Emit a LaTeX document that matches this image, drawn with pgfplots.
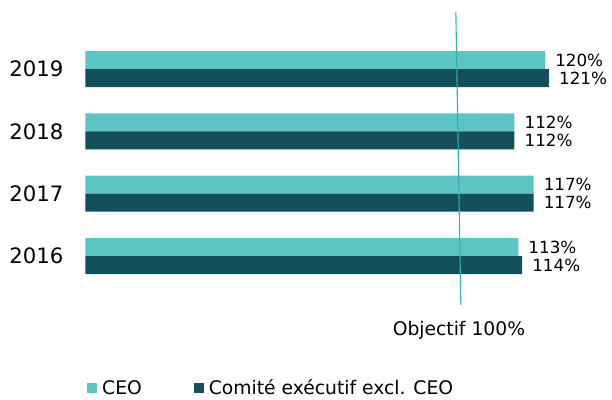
\documentclass[border=0pt]{standalone}
\usepackage{pgfplots}
\pgfplotsset{compat=1.18}
\usepackage{fontspec}
\setmainfont{DejaVu Sans}

\definecolor{ceo}{HTML}{5CC5C4}
\definecolor{comex}{HTML}{134F5C}
\definecolor{objline}{HTML}{2BB5B0}

\begin{document}
\begin{tikzpicture}
\begin{axis}[
  xbar,
  scale only axis,
  width=497.9bp, height=261.8bp,
  xmin=0, xmax=130,
  ymin=-0.6, ymax=3.6,
  bar width=18bp,
  clip=false,
  axis line style={draw=none},
  tick style={draw=none},
  major tick length=0pt,
  xtick=\empty,
  ytick={0,1,2,3},
  yticklabels={2016,2017,2018,2019},
  yticklabel style={font=\fontsize{21.3}{25}\selectfont, inner sep=0pt, xshift=-22bp},
  /pgf/number format/assume math mode=true,
  nodes near coords={\pgfmathprintnumber{\pgfplotspointmeta}\%},
  every node near coord/.append style={font=\fontsize{16.8}{20}\selectfont, inner sep=0pt, anchor=west, xshift=10bp},
  legend style={
    draw=none, fill=none,
    at={(0.003,-0.362)}, anchor=west,
    inner sep=0pt,
    legend columns=2,
    nodes={inner sep=0pt, font=\fontsize{18.8}{22}\selectfont},
    /tikz/every odd column/.append style={column sep=5bp},
    /tikz/every even column/.append style={column sep=52bp},
  },
]
\addplot[fill=ceo, draw=none, bar shift=9bp,
  legend image code/.code={\fill[ceo] (0bp,-5bp) rectangle (10bp,5bp);}]
  coordinates {(113,0) (117,1) (112,2) (120,3)};
\addlegendentry{CEO}
\addplot[fill=comex, draw=none, bar shift=-9bp,
  legend image code/.code={\fill[comex] (0bp,-5bp) rectangle (10bp,5bp);}]
  coordinates {(114,0) (117,1) (112,2) (121,3)};
\addlegendentry{Comité exécutif excl. CEO}

% objective line
\addplot[sharp plot, forget plot, draw=objline, line width=1.1bp, nodes near coords={}]
  coordinates {(96.7,3.914) (98.0,-0.786)};
\node[font=\fontsize{18.8}{22}\selectfont, inner sep=0pt] at (axis cs:97.5,-1.187) {Objectif 100\%};
\end{axis}
\pgfresetboundingbox
\path (-85.5bp,-106.6bp) rectangle (526.5bp,293.4bp);
\end{tikzpicture}
\end{document}
